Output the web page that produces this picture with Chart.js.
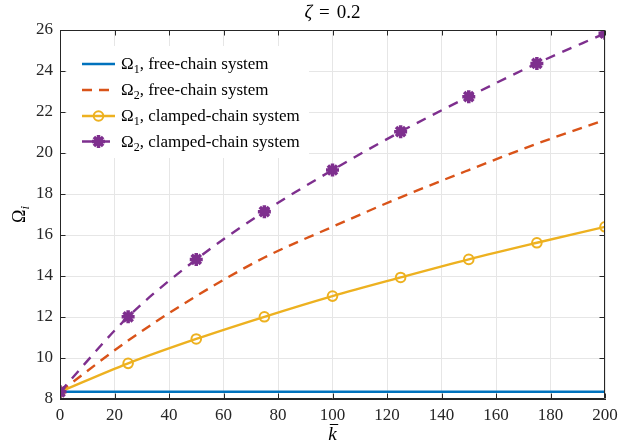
<!DOCTYPE html>
<html><head><meta charset="utf-8">
<script src="https://cdn.jsdelivr.net/npm/chart.js@4.4.1/dist/chart.umd.min.js"></script>
<style>html,body{margin:0;padding:0;background:#fff}#wrap{width:627px;height:445px}</style>
</head><body><div id="wrap"><canvas id="c" width="627" height="445"></canvas></div>
<script>
// ---- data ----
const kValues       = [0, 25, 50, 75, 100, 125, 150, 175, 200];
const omega1Free    = [8.35, 8.35, 8.35, 8.35, 8.35, 8.35, 8.35, 8.35, 8.35];
const omega2Free    = [8.35, 10.85, 13.02, 14.90, 16.40, 17.84, 19.17, 20.45, 21.62];
const omega1Clamped = [8.35, 9.74, 10.93, 12.01, 13.02, 13.93, 14.81, 15.62, 16.40];
const omega2Clamped = [8.35, 12.01, 14.81, 17.14, 19.17, 21.04, 22.75, 24.37, 25.84];
const seriesSubs    = ['1', '2', '1', '2'];
const seriesNames   = [', free-chain system', ', free-chain system', ', clamped-chain system', ', clamped-chain system'];
const titleParts    = ['\u03B6', '=', '0.2'];
const xTitle        = 'k';
const yTitleMain    = '\u03A9';
const yTitleSub     = 'i';

const SERIF = '"Liberation Serif", "Times New Roman", serif';
const INK = '#262626';
const C_BLUE = '#0072BD', C_ORANGE = '#D95319', C_YELLOW = '#EDB120', C_PURPLE = '#7E2F8E';

function pts(ys){ return kValues.map((k,i)=>({x:k, y:ys[i]})); }

const framePlugin = {
  id: 'frame',
  afterDraw(chart){
    const {ctx, chartArea:a, scales:{x, y}} = chart;
    ctx.save();
    // box
    ctx.strokeStyle = INK; ctx.lineWidth = 1; ctx.setLineDash([]);
    const L = Math.round(a.left)+0.5, R = Math.round(a.right)-0.5, T = Math.round(a.top)+0.5, B = Math.round(a.bottom)-0.5;
    ctx.beginPath();
    ctx.moveTo(L,T); ctx.lineTo(R,T); ctx.lineTo(R,B); ctx.lineTo(L,B); ctx.closePath();
    ctx.stroke();
    // inward ticks
    const TL = 5;
    ctx.beginPath();
    x.ticks.forEach(t=>{
      const px = Math.round(x.getPixelForValue(t.value))+0.5;
      ctx.moveTo(px,B); ctx.lineTo(px,B-TL);
      ctx.moveTo(px,T); ctx.lineTo(px,T+TL);
    });
    y.ticks.forEach(t=>{
      const py = Math.round(y.getPixelForValue(t.value))+0.5;
      ctx.moveTo(L,py); ctx.lineTo(L+TL,py);
      ctx.moveTo(R,py); ctx.lineTo(R-TL,py);
    });
    ctx.stroke();

    // legend
    ctx.fillStyle = '#fff';
    ctx.fillRect(67, 46, 242, 112);
    const rows = [64, 90, 116, 141.5];
    chart.data.datasets.forEach((ds, i)=>{
      const ry = rows[i];
      ctx.strokeStyle = ds.borderColor; ctx.lineWidth = ds.borderWidth;
      ctx.setLineDash(ds.borderDash || []);
      ctx.beginPath(); ctx.moveTo(82, ry); ctx.lineTo(115, ry); ctx.stroke();
      ctx.setLineDash([]);
      if (ds.pointRadius > 0) {
        ctx.fillStyle = ds.pointBackgroundColor; ctx.strokeStyle = ds.pointBorderColor; ctx.lineWidth = ds.pointBorderWidth;
        Chart.helpers.drawPoint(ctx, {pointStyle: ds.pointStyle, radius: ds.pointRadius, borderWidth: ds.pointBorderWidth, rotation: 0}, 98.5, ry);
      }
      ctx.fillStyle = '#000';
      ctx.textBaseline = 'alphabetic'; ctx.textAlign = 'left';
      let tx = 121;
      ctx.font = '17px ' + SERIF;
      ctx.fillText('\u03A9', tx, ry+5); tx += ctx.measureText('\u03A9').width;
      ctx.font = '12px ' + SERIF;
      ctx.fillText(seriesSubs[i], tx, ry+9); tx += ctx.measureText(seriesSubs[i]).width;
      ctx.font = '17px ' + SERIF;
      ctx.fillText(seriesNames[i], tx, ry+5);
    });

    // title  (zeta = 0.2 with math spacing)
    ctx.fillStyle = '#000';
    const cx = (a.left + a.right)/2;
    const gap = 7;
    ctx.font = 'italic 19px ' + SERIF;
    const w1 = ctx.measureText(titleParts[0]).width;
    ctx.font = '19px ' + SERIF;
    const w2 = ctx.measureText(titleParts[1]).width;
    const w3 = ctx.measureText(titleParts[2]).width;
    let sx = cx - (w1+w2+w3+2*gap)/2;
    ctx.font = 'italic 19px ' + SERIF; ctx.fillText(titleParts[0], sx, 18);
    ctx.font = '19px ' + SERIF;
    ctx.fillText(titleParts[1], sx + w1 + gap, 18);
    ctx.fillText(titleParts[2], sx + w1 + w2 + 2*gap, 18);

    // x title (k with bar)
    ctx.font = 'italic 19px ' + SERIF;
    const kw = ctx.measureText(xTitle).width;
    const kx = cx - kw/2;
    ctx.fillText(xTitle, kx, 440);
    ctx.strokeStyle = '#000'; ctx.lineWidth = 1;
    ctx.beginPath(); ctx.moveTo(kx+1.5, 424.5); ctx.lineTo(kx+kw+1.5, 424.5); ctx.stroke();

    // y title (Omega_i) rotated
    ctx.save();
    ctx.translate(25, (a.top + a.bottom)/2);
    ctx.rotate(-Math.PI/2);
    ctx.font = '18px ' + SERIF;
    const ow = ctx.measureText(yTitleMain).width;
    ctx.font = 'italic 13px ' + SERIF;
    const iw = ctx.measureText(yTitleSub).width;
    const ox = -(ow+iw)/2;
    ctx.font = '18px ' + SERIF; ctx.fillText(yTitleMain, ox, 0);
    ctx.font = 'italic 13px ' + SERIF; ctx.fillText(yTitleSub, ox+ow, 4);
    ctx.restore();
    ctx.restore();
  }
};

new Chart(document.getElementById('c'), {
  type: 'line',
  data: {
    datasets: [
      {label:'\u03A9\u2081, free-chain system', data: pts(omega1Free), borderColor: C_BLUE, borderWidth: 2.5, pointRadius: 0, fill:false, order: 3},
      {label:'\u03A9\u2082, free-chain system', data: pts(omega2Free), borderColor: C_ORANGE, borderWidth: 2.4, borderDash:[10,7], pointRadius: 0, fill:false, cubicInterpolationMode:'monotone', order: 2},
      {label:'\u03A9\u2081, clamped-chain system', data: pts(omega1Clamped), borderColor: C_YELLOW, borderWidth: 2.4, pointStyle:'circle', pointRadius: 4.8, pointBorderWidth: 2, pointBackgroundColor:'rgba(0,0,0,0)', pointBorderColor: C_YELLOW, fill:false, cubicInterpolationMode:'monotone', order: 1},
      {label:'\u03A9\u2082, clamped-chain system', data: pts(omega2Clamped), borderColor: C_PURPLE, borderWidth: 2.4, borderDash:[10,8], pointStyle:'star', pointRadius: 6.5, pointBorderWidth: 3.5, pointBackgroundColor: C_PURPLE, pointBorderColor: C_PURPLE, fill:false, cubicInterpolationMode:'monotone', order: 0}
    ]
  },
  options: {
    responsive: false, animation: false, devicePixelRatio: 1,
    layout: {padding: {top: 30, right: 22, bottom: 0, left: 0}},
    plugins: {legend: {display:false}, title: {display:false}, tooltip: {enabled:false}},
    scales: {
      x: {
        type: 'linear', min: 0, max: 200,
        ticks: {stepSize: 20, color: INK, font: {family: SERIF, size: 17}, padding: 6, maxRotation: 0},
        grid: {color: '#e6e6e6', lineWidth: 1, drawTicks: false},
        border: {display: true, color: INK, width: 1},
        afterFit(s){ s.height = 46; }
      },
      y: {
        type: 'linear', min: 8, max: 26,
        ticks: {stepSize: 2, color: INK, font: {family: SERIF, size: 17}, padding: 7},
        grid: {color: '#e6e6e6', lineWidth: 1, drawTicks: false},
        border: {display: true, color: INK, width: 1},
        afterFit(s){ s.width = 60; }
      }
    }
  },
  plugins: [framePlugin]
});
</script>
</body></html>
